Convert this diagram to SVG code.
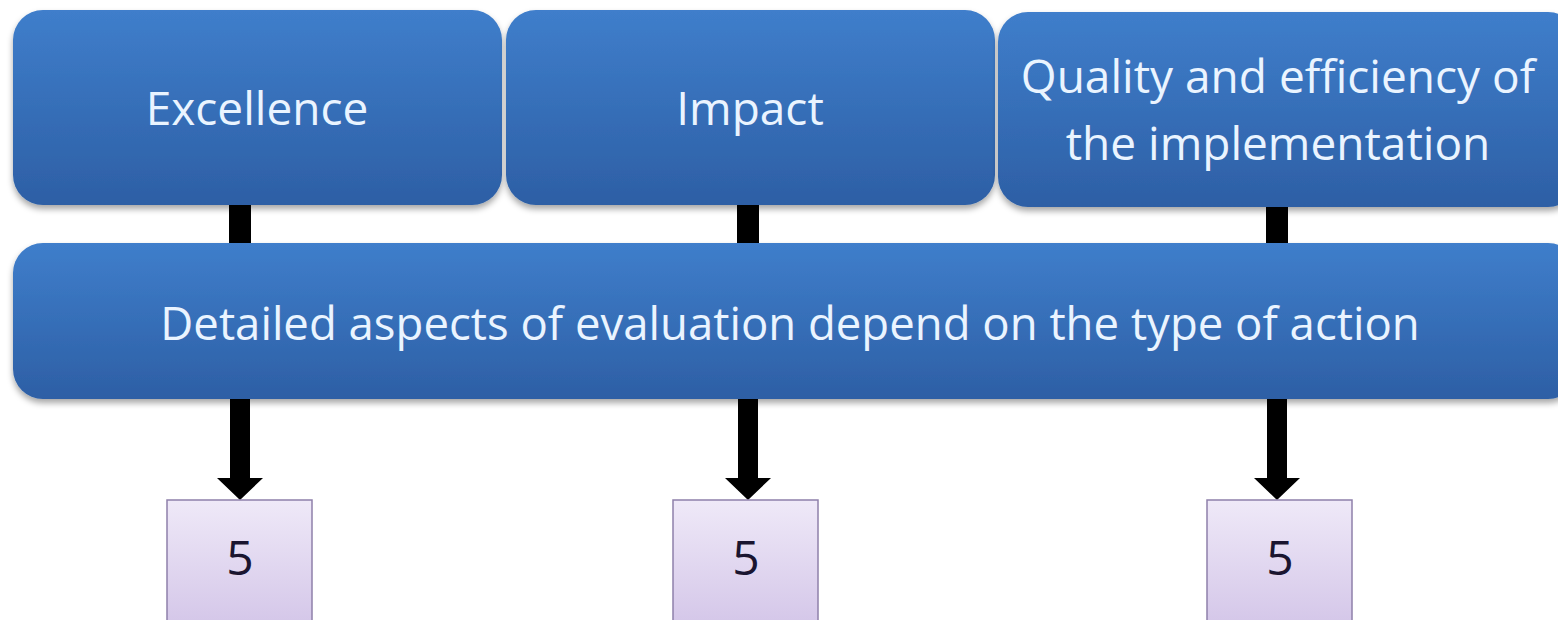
<svg xmlns="http://www.w3.org/2000/svg" width="1558" height="620" viewBox="0 0 1558 620">
<defs>
<linearGradient id="blue" x1="0" y1="0" x2="0" y2="1">
<stop offset="0" stop-color="#3f7ecb"/>
<stop offset="1" stop-color="#2d5fa5"/>
</linearGradient>
<linearGradient id="lav" x1="0" y1="0" x2="0" y2="1">
<stop offset="0" stop-color="#efe9f8"/>
<stop offset="1" stop-color="#d3c5e8"/>
</linearGradient>
<filter id="sh" x="-5%" y="-10%" width="110%" height="130%">
<feDropShadow dx="0" dy="4" stdDeviation="3" flood-color="#000" flood-opacity="0.35"/>
</filter>
</defs>
<style>
.b{fill:url(#blue);filter:url(#sh)}
.t{font-family:"Open Sans","DejaVu Sans",sans-serif;fill:#eaf4ff;text-anchor:middle}
.l{fill:url(#lav);stroke:#8f80aa;stroke-width:1.5}
.n{font-family:"Open Sans","DejaVu Sans",sans-serif;fill:#1a1530;text-anchor:middle;font-size:48px}
.c{fill:#000}
</style>
<rect width="1558" height="620" fill="#fff"/>
<g id="connectors">
<rect class="c" x="229" y="200" width="22" height="50"/>
<rect class="c" x="737" y="200" width="22" height="50"/>
<rect class="c" x="1266" y="200" width="22" height="50"/>
<path class="c" d="M230 395 H250 V478 H263 L240 500 L217 478 H230 Z"/>
<path class="c" d="M738 395 H758 V478 H771 L748 500 L725 478 H738 Z"/>
<path class="c" d="M1267 395 H1287 V478 H1300 L1277 500 L1254 478 H1267 Z"/>
</g>
<g id="excellence">
<rect class="b" x="13" y="10" width="489" height="195" rx="30"/>
<text class="t" x="257" y="125" font-size="46">Excellence</text>
</g>
<g id="impact">
<rect class="b" x="506" y="10" width="489" height="195" rx="30"/>
<text class="t" x="750" y="125" font-size="46">Impact</text>
</g>
<g id="quality">
<rect class="b" x="998" y="12" width="580" height="195" rx="30"/>
<text class="t" x="1278" y="93" font-size="46">Quality and efficiency of</text>
<text class="t" x="1278" y="160" font-size="46">the implementation</text>
</g>
<g id="detailed">
<rect class="b" x="13" y="243" width="1565" height="156" rx="30"/>
<text class="t" x="790" y="340" font-size="45.5">Detailed aspects of evaluation depend on the type of action</text>
</g>
<g id="score1">
<rect class="l" x="167" y="500" width="145" height="130"/>
<text class="n" x="240" y="575">5</text>
</g>
<g id="score2">
<rect class="l" x="673" y="500" width="145" height="130"/>
<text class="n" x="746" y="575">5</text>
</g>
<g id="score3">
<rect class="l" x="1207" y="500" width="145" height="130"/>
<text class="n" x="1280" y="575">5</text>
</g>
</svg>
